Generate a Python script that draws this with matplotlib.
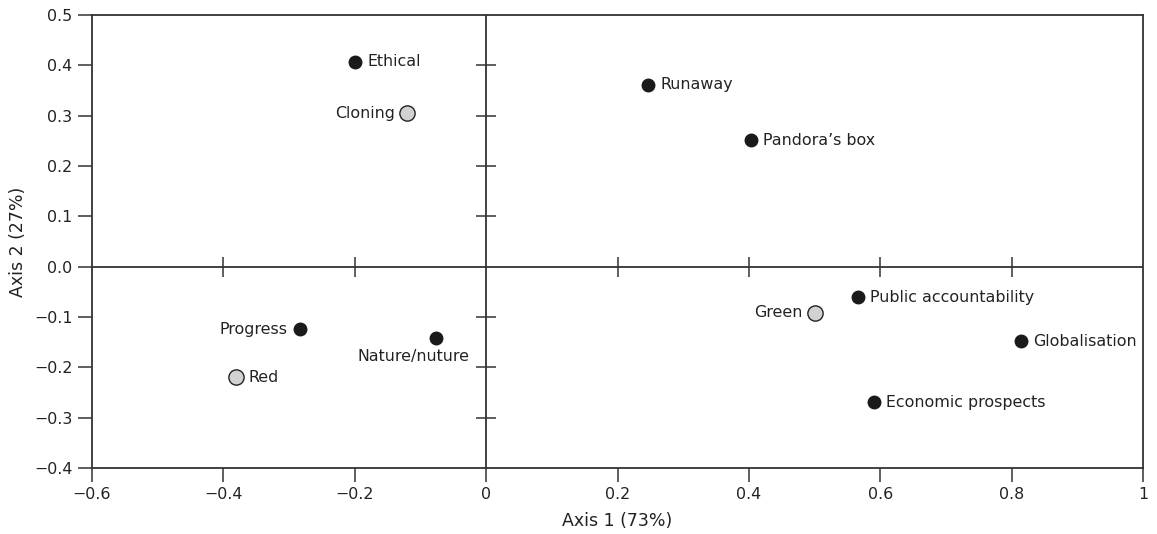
import matplotlib
matplotlib.use("Agg")
import matplotlib.pyplot as plt
from matplotlib.ticker import FuncFormatter

plt.rcParams['font.family'] = ['DejaVu Sans']

# Data
labels = ["Ethical", "Cloning", "Runaway", "Pandora\u2019s box", "Progress", "Red",
          "Nature/nuture", "Green", "Public accountability", "Globalisation",
          "Economic prospects"]
axis1 = [-0.20, -0.12, 0.247, 0.403, -0.284, -0.381, -0.077, 0.500, 0.566, 0.814, 0.590]
axis2 = [0.407, 0.305, 0.361, 0.251, -0.124, -0.220, -0.142, -0.092, -0.061, -0.148, -0.269]
kind = ["black", "grey", "black", "black", "black", "grey", "black", "grey",
        "black", "black", "black"]
label_pos = ["right", "left", "right", "right", "left", "right", "below", "left",
             "right", "right", "right"]

xticks = [-0.6, -0.4, -0.2, 0, 0.2, 0.4, 0.6, 0.8, 1.0]
yticks = [0.5, 0.4, 0.3, 0.2, 0.1, 0.0, -0.1, -0.2, -0.3, -0.4]
inner_xticks = [-0.4, -0.2, 0.2, 0.4, 0.6, 0.8]
inner_yticks = [0.4, 0.3, 0.2, 0.1, -0.1, -0.2, -0.3]

line_c = '#333333'
text_c = '#222222'
fs = 11.4

fig = plt.figure(figsize=(11.57, 5.34), dpi=100)
ax = fig.add_axes([0.0795, 0.1236, 0.9085, 0.8483])
ax.set_xlim(-0.6, 1.0)
ax.set_ylim(-0.4, 0.5)

for s in ax.spines.values():
    s.set_color(line_c)
    s.set_linewidth(1.3)

ax.set_xticks(xticks)
ax.set_yticks(yticks)
ax.xaxis.set_major_formatter(FuncFormatter(
    lambda v, p: ('0' if abs(v) < 1e-9 else ('1' if abs(v - 1) < 1e-9 else f"{v:.1f}")).replace('-', '\u2212')))
ax.yaxis.set_major_formatter(FuncFormatter(
    lambda v, p: ("0.0" if abs(v) < 1e-9 else f"{v:.1f}").replace('-', '\u2212')))
ax.tick_params(direction='out', length=10, width=1.1, color=line_c,
               labelsize=fs, labelcolor=text_c, pad=4)

# Cross lines through origin
ax.axhline(0, color=line_c, lw=1.3, zorder=1)
ax.axvline(0, color=line_c, lw=1.3, zorder=1)
ax.plot(inner_xticks, [0] * len(inner_xticks), ls='none', marker='|',
        ms=14, mew=1.1, color=line_c, zorder=1)
ax.plot([0] * len(inner_yticks), inner_yticks, ls='none', marker='_',
        ms=14, mew=1.1, color=line_c, zorder=1)

ax.set_xlabel("Axis 1 (73%)", fontsize=12.5, color=text_c, labelpad=7)
ax.set_ylabel("Axis 2 (27%)", fontsize=12.5, color=text_c, labelpad=5)

for lab, x, y, k, pos in zip(labels, axis1, axis2, kind, label_pos):
    if k == "black":
        ax.plot(x, y, 'o', ms=9, mfc='#1a1a1a', mec='#1a1a1a', zorder=3)
    else:
        ax.plot(x, y, 'o', ms=11, mfc='#d2d2d2', mec='#222222', mew=1.0, zorder=3)
    if pos == "right":
        ax.annotate(lab, (x, y), xytext=(9, 0), textcoords='offset points',
                    ha='left', va='center', fontsize=fs, color=text_c)
    elif pos == "left":
        ax.annotate(lab, (x, y), xytext=(-9, 0), textcoords='offset points',
                    ha='right', va='center', fontsize=fs, color=text_c)
    else:
        ax.annotate(lab, (x, y), xytext=(-16, -13), textcoords='offset points',
                    ha='center', va='center', fontsize=fs, color=text_c)

fig.savefig("out.png", dpi=100)
